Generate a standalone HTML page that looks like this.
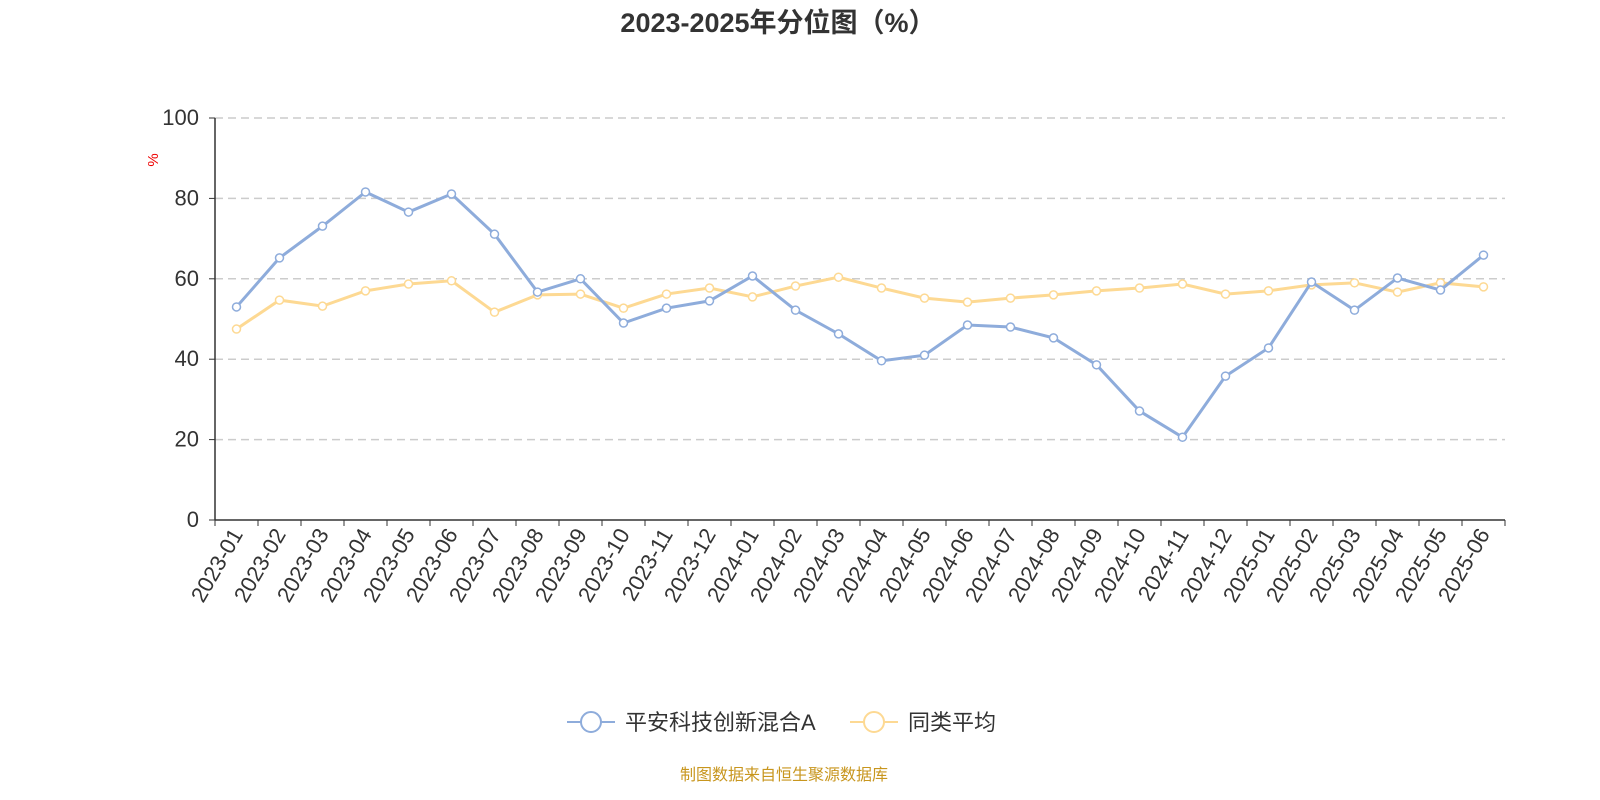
<!DOCTYPE html>
<html><head><meta charset="utf-8"><style>
body{margin:0;background:#fff;}
svg{display:block;font-family:"Liberation Sans","Noto Sans CJK SC",sans-serif;}
</style></head><body>
<svg id="c" width="1600" height="800">
<text x="778" y="32" text-anchor="middle" font-size="27" font-weight="bold" fill="#333">2023-2025年分位图（%）</text>
<text transform="translate(158,160) rotate(-90)" text-anchor="middle" font-size="15" fill="#e00">%</text>
<g id="grid"></g><g id="axes"></g><g id="series"></g>
<g>
<g>
<line x1="567" y1="722" x2="615" y2="722" stroke="#8eacdb" stroke-width="2"/>
<circle cx="591" cy="722" r="10" fill="#fff" stroke="#8eacdb" stroke-width="2"/>
<text x="625" y="730" font-size="22" fill="#333">平安科技创新混合A</text></g>
<g>
<line x1="850" y1="722" x2="898" y2="722" stroke="#fdd993" stroke-width="2"/>
<circle cx="874" cy="722" r="10" fill="#fff" stroke="#fdd993" stroke-width="2"/>
<text x="908" y="730" font-size="22" fill="#333">同类平均</text></g>
</g>
<text x="784" y="780" text-anchor="middle" font-size="16" fill="#c8961e">制图数据来自恒生聚源数据库</text>
</svg>
<script>
const categories=["2023-01","2023-02","2023-03","2023-04","2023-05","2023-06","2023-07","2023-08","2023-09","2023-10","2023-11","2023-12","2024-01","2024-02","2024-03","2024-04","2024-05","2024-06","2024-07","2024-08","2024-09","2024-10","2024-11","2024-12","2025-01","2025-02","2025-03","2025-04","2025-05","2025-06"];
const fundValues=[53,65.2,73.1,81.6,76.6,81.1,71.1,56.7,60,49,52.7,54.5,60.7,52.2,46.3,39.6,41,48.5,48,45.3,38.6,27.1,20.6,35.8,42.8,59.2,52.2,60.2,57.2,65.9];
const avgValues=[47.5,54.7,53.2,57,58.7,59.5,51.7,56,56.2,52.7,56.2,57.7,55.5,58.2,60.4,57.7,55.2,54.2,55.2,56,57,57.7,58.7,56.2,57,58.5,59,56.7,59,58];
const yTicks=[0,20,40,60,80,100];
const NS="http://www.w3.org/2000/svg";
const X0=215,X1=1505,Y0=520,Y1=118;
const bw=(X1-X0)/categories.length;
const xPos=i=>X0+bw*(i+0.5);
const yPos=v=>Y0-(v/100)*(Y0-Y1);
function mk(tag,attrs,parent){const e=document.createElementNS(NS,tag);for(const k in attrs)e.setAttribute(k,attrs[k]);parent.appendChild(e);return e;}
const grid=document.getElementById('grid'),axes=document.getElementById('axes'),ser=document.getElementById('series');
yTicks.forEach(t=>{
 const y=yPos(t);
 if(t>0){const g=mk('line',{x1:X0,x2:X1,y1:y,y2:y,stroke:'#ccc','stroke-dasharray':'8,5','stroke-width':1.5},grid);
 
 }
 mk('line',{x1:X0-6,x2:X0,y1:y,y2:y,stroke:'#333'},axes);
 const tx=mk('text',{x:X0-16,y:y+7,'text-anchor':'end','font-size':22,fill:'#333'},axes);tx.textContent=t;
 
 
});
const ya=mk('line',{x1:X0,x2:X0,y1:Y1,y2:Y0,stroke:'#333','stroke-width':1.5},axes);


const xa=mk('line',{x1:X0,x2:X1,y1:Y0,y2:Y0,stroke:'#333','stroke-width':1.5},axes);


for(let i=0;i<=categories.length;i++){const x=X0+bw*i;mk('line',{x1:x,x2:x,y1:Y0,y2:Y0+6,stroke:'#333'},axes);}
categories.forEach((c,i)=>{
 const x=xPos(i);
 const t=mk('text',{transform:`translate(${x+7},${Y0+14}) rotate(-60)`,'text-anchor':'end','font-size':22,fill:'#333'},axes);t.textContent=c;
 
 
});
function drawSeries(vals,color,name){
 const p=mk('polyline',{points:vals.map((v,i)=>xPos(i)+','+yPos(v)).join(' '),fill:'none',stroke:color,'stroke-width':3},ser);
 
 
 vals.forEach((v,i)=>{const c=mk('circle',{cx:xPos(i),cy:yPos(v),r:4,fill:'#fff',stroke:color,'stroke-width':1.5},ser);
 
 });
}
drawSeries(avgValues,'#fdd993','average');
drawSeries(fundValues,'#8eacdb','fund');
</script>
</body></html>
